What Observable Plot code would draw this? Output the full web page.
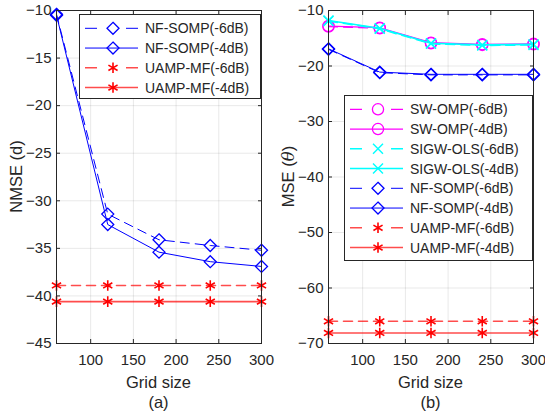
<!DOCTYPE html>
<html><head><meta charset="utf-8">
<script src="https://cdn.jsdelivr.net/npm/d3@7"></script>
<script src="https://cdn.jsdelivr.net/npm/@observablehq/plot@0.6"></script>
<style>
body{margin:0;background:#fff}
#wrap{position:relative;width:545px;height:419px;font-family:"Liberation Sans",Arial,sans-serif;background:#fff}
#wrap svg{position:absolute;top:0}
</style></head>
<body><div id="wrap"></div>
<script>
// ---- data ----
const gridSize = [60, 120, 180, 240, 300];
const xTicks = [100, 150, 200, 250, 300];
const yTicksA = [-45, -40, -35, -30, -25, -20, -15, -10];
const yTicksB = [-70, -60, -50, -40, -30, -20, -10];

// panel (a): NMSE (d)
const nmseNfSomp6 = [-10.4, -31.4, -34.1, -34.7, -35.2];
const nmseNfSomp4 = [-10.5, -32.5, -35.4, -36.4, -36.9];
const nmseUamp6 = [-38.9, -38.9, -38.9, -38.9, -38.9];
const nmseUamp4 = [-40.6, -40.6, -40.6, -40.6, -40.6];

// panel (b): MSE (theta)
const mseSwOmp6 = [-12.9, -13.2, -15.9, -16.2, -16.1];
const mseSwOmp4 = [-12.8, -13.1, -15.8, -16.1, -16.0];
const mseSigw6 = [-11.9, -13.3, -16.0, -16.3, -16.2];
const mseSigw4 = [-11.8, -13.2, -15.9, -16.2, -16.1];
const mseNfSomp6 = [-17.0, -21.2, -21.6, -21.6, -21.6];
const mseNfSomp4 = [-16.9, -21.1, -21.5, -21.5, -21.5];
const mseUamp6 = [-66.0, -66.0, -66.0, -66.0, -66.0];
const mseUamp4 = [-68.1, -68.1, -68.1, -68.1, -68.1];

const labelsA = ["NF-SOMP(-6dB)", "NF-SOMP(-4dB)", "UAMP-MF(-6dB)", "UAMP-MF(-4dB)"];
const labelsB = ["SW-OMP(-6dB)", "SW-OMP(-4dB)", "SIGW-OLS(-6dB)", "SIGW-OLS(-4dB)",
                 "NF-SOMP(-6dB)", "NF-SOMP(-4dB)", "UAMP-MF(-6dB)", "UAMP-MF(-4dB)"];

// ---- styles ----
const DASH = "9,6";
const sty = {
  blue:    {stroke: "#0000ff", width: 1, opacity: 1},
  magenta: {stroke: "#ff00ff", width: 1.2, opacity: 1},
  cyan:    {stroke: "#00ffff", width: 1.6, opacity: 1},
  red:     {stroke: "#ff0000", width: 1.6, opacity: 0.7}
};
const sym = {
  diamond: {s: d3.symbolDiamond2, r: 5.4, w: 1.3},
  circle:  {s: d3.symbolCircle, r: 5.6, w: 1.3},
  times:   {s: d3.symbolTimes, r: 4.6, w: 1.4},
  star:    {s: d3.symbolAsterisk, r: 5.0, w: 1.6}
};

function series(vals, label, color, dashed, marker) {
  return {rows: gridSize.map((g, i) => ({x: g, y: vals[i]})), label, color: sty[color], dashed, marker: sym[marker]};
}

const seriesA = [
  series(nmseNfSomp6, labelsA[0], "blue", true, "diamond"),
  series(nmseNfSomp4, labelsA[1], "blue", false, "diamond"),
  series(nmseUamp6, labelsA[2], "red", true, "star"),
  series(nmseUamp4, labelsA[3], "red", false, "star")
];
const seriesB = [
  series(mseSwOmp6, labelsB[0], "magenta", true, "circle"),
  series(mseSwOmp4, labelsB[1], "magenta", false, "circle"),
  series(mseSigw6, labelsB[2], "cyan", true, "times"),
  series(mseSigw4, labelsB[3], "cyan", false, "times"),
  series(mseNfSomp6, labelsB[4], "blue", true, "diamond"),
  series(mseNfSomp4, labelsB[5], "blue", false, "diamond"),
  series(mseUamp6, labelsB[6], "red", true, "star"),
  series(mseUamp4, labelsB[7], "red", false, "star")
];

const TXT = "#262626";

function panel(list, yDomain, yTicks, width, mL, mR) {
  const marks = [
    Plot.gridX(xTicks, {stroke: "#000", strokeOpacity: 0.09}),
    Plot.gridY(yTicks, {stroke: "#000", strokeOpacity: 0.09})
  ];
  for (const s of list) {
    marks.push(Plot.line(s.rows, {x: "x", y: "y", stroke: s.color.stroke, strokeWidth: s.color.width,
      strokeOpacity: s.color.opacity, strokeDasharray: s.dashed ? DASH : null}));
    marks.push(Plot.dot(s.rows, {x: "x", y: "y", symbol: s.marker.s, r: s.marker.r, fill: "none",
      stroke: s.color.stroke, strokeWidth: s.marker.w}));
  }
  marks.push(
    Plot.frame({stroke: TXT, strokeWidth: 1}),
    Plot.axisX(xTicks, {anchor: "bottom", tickSize: -4, tickPadding: 15, label: null, fontSize: 15, stroke: TXT, fill: TXT}),
    Plot.axisX(xTicks, {anchor: "top", tickSize: -4, tickFormat: () => "", label: null, stroke: TXT}),
    Plot.axisY(yTicks, {anchor: "left", tickSize: -4, tickPadding: 9, label: null, fontSize: 15, stroke: TXT, fill: TXT}),
    Plot.axisY(yTicks, {anchor: "right", tickSize: -4, tickFormat: () => "", label: null, stroke: TXT})
  );
  return Plot.plot({
    width, height: 419, marginLeft: mL, marginRight: mR, marginTop: 10, marginBottom: 76,
    x: {domain: [60, 300]},
    y: {domain: yDomain},
    style: {fontFamily: "'Liberation Sans', Arial, sans-serif", fontSize: "15px", color: TXT, overflow: "visible", background: "transparent"},
    marks
  });
}

function decorate(svgNode, list, box, mL, innerW, yLabel, tag) {
  const svg = d3.select(svgNode);
  const g = svg.append("g").attr("font-family", "'Liberation Sans', Arial, sans-serif").attr("fill", TXT)
    .attr("text-anchor", "start");
  // legend
  g.append("rect").attr("x", box.x + 0.5).attr("y", box.y + 0.5).attr("width", box.w).attr("height", box.h)
    .attr("fill", "#fff").attr("stroke", TXT).attr("stroke-width", 1);
  list.forEach((s, i) => {
    const cy = box.y + 14.3 + i * 19.75;
    g.append("line").attr("x1", box.x + 6).attr("x2", box.x + 59).attr("y1", cy).attr("y2", cy)
      .attr("stroke", s.color.stroke).attr("stroke-width", s.color.width).attr("stroke-opacity", s.color.opacity)
      .attr("stroke-dasharray", s.dashed ? "12,29" : null);
    g.append("path").attr("transform", `translate(${box.x + 34},${cy})`)
      .attr("d", d3.symbol(s.marker.s, Math.PI * s.marker.r * s.marker.r)())
      .attr("fill", "none").attr("stroke", s.color.stroke).attr("stroke-width", s.marker.w);
    g.append("text").attr("x", box.x + 66).attr("y", cy + 5).attr("font-size", 14)
      .attr("text-anchor", "start").text(s.label);
  });
  // axis labels
  const cx = mL + innerW / 2;
  g.append("text").attr("x", cx).attr("y", 388).attr("text-anchor", "middle").attr("font-size", 16.5).text("Grid size");
  g.append("text").attr("x", cx).attr("y", 408).attr("text-anchor", "middle").attr("font-size", 16.5).text(tag);
  const yl = g.append("text").attr("transform", `translate(${mL - 34},176.5) rotate(-90)`)
    .attr("text-anchor", "middle").attr("font-size", 16.5);
  yLabel(yl);
}

const wrap = document.getElementById("wrap");

const svgA = panel(seriesA, [-45, -10], yTicksA, 272, 56, 11);
svgA.style.left = "0px";
wrap.appendChild(svgA);
decorate(svgA, seriesA, {x: 79, y: 14, w: 181, h: 84}, 56, 205, t => t.text("NMSE (d)"), "(a)");

const svgB = panel(seriesB, [-70, -10], yTicksB, 273, 56, 12);
svgB.style.left = "272px";
wrap.appendChild(svgB);
decorate(svgB, seriesB, {x: 72, y: 95, w: 188, h: 165}, 56, 205, t => {
  t.append("tspan").text("MSE (");
  t.append("tspan").attr("font-style", "italic").attr("font-family", "'DejaVu Serif', 'Liberation Serif', serif").text("θ");
  t.append("tspan").text(")");
}, "(b)");
</script>
</body></html>
